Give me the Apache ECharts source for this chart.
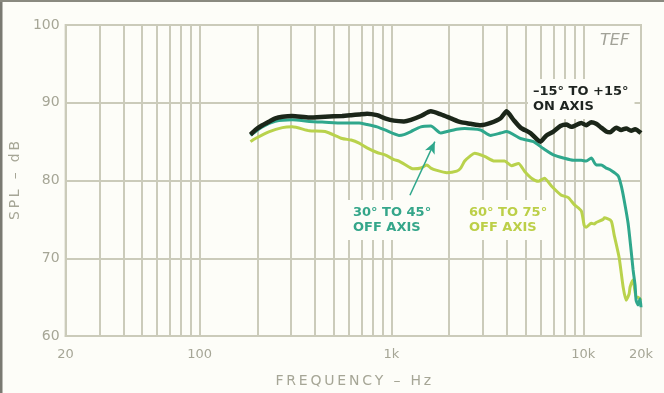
<!DOCTYPE html>
<html>
<head>
<meta charset="utf-8">
<script src="https://cdn.jsdelivr.net/npm/echarts@6/dist/echarts.min.js"></script>
<style>
html,body{margin:0;padding:0;background:#fdfdf8;}
#chart{width:664px;height:393px;}
</style>
</head>
<body>
<div id="chart"></div>
<script>
// Frequency grid values (Hz)
var gridFreqs = [30,40,50,60,70,80,90,100,200,300,400,500,600,700,800,900,1000,2000,3000,4000,5000,6000,7000,8000,9000,10000];
// Y tick values (dB)
var yTicks = [60,70,80,90,100];

// -15° to +15° on axis  [Hz, dB]
var onAxis = [
  [184,85.9],[195,86.5],[212,87.1],[231,87.6],[248,88.0],[270,88.2],[304,88.3],[373,88.1],
  [451,88.2],[553,88.3],[616,88.4],[678,88.5],[746,88.6],[841,88.4],[925,88.0],[1030,87.7],
  [1161,87.6],[1263,87.8],[1423,88.3],[1604,88.9],[1808,88.5],[2038,88.0],[2296,87.5],
  [2588,87.3],[2916,87.1],[3288,87.4],[3706,88.0],[3981,88.9],[4329,87.8],[4707,86.8],
  [5305,86.1],[5979,85.0],[6424,85.8],[6986,86.3],[7595,87.0],[8160,87.2],[8662,86.9],
  [9764,87.4],[10360,87.1],[11010,87.5],[11680,87.3],[12400,86.8],[13170,86.3],[13810,86.2],
  [14840,86.8],[15750,86.5],[16730,86.7],[17760,86.4],[18630,86.6],[20000,86.1]
];

// 30° to 45° off axis
var offAxis30 = [
  [184,85.8],[212,86.9],[248,87.6],[304,87.8],[373,87.6],[451,87.5],[553,87.4],[678,87.4],
  [746,87.2],[841,86.9],[925,86.5],[1094,85.8],[1161,85.9],[1263,86.3],[1423,86.9],[1604,87.0],
  [1808,86.1],[1943,86.3],[2189,86.6],[2409,86.7],[2916,86.5],[3288,85.8],[3706,86.1],
  [3981,86.3],[4707,85.4],[5500,85.0],[6197,84.1],[6986,83.3],[7873,82.9],[8872,82.6],
  [9764,82.6],[10360,82.5],[11010,82.9],[11680,82.0],[12400,82.0],[13170,81.6],[13980,81.3],
  [15200,80.6],[15750,79.4],[16330,77.5],[17130,74.5],[17760,71.0],[18190,68.5],[18630,66.5],
  [18860,64.6],[19310,64.0],[19780,64.8],[20000,63.7]
];

// 60° to 75° off axis
var offAxis60 = [
  [184,85.0],[195,85.4],[231,86.3],[270,86.8],[304,86.9],[373,86.4],[451,86.3],[553,85.4],
  [616,85.2],[678,84.8],[746,84.2],[841,83.6],[925,83.3],[1030,82.7],[1094,82.5],[1263,81.6],
  [1309,81.5],[1423,81.6],[1529,82.0],[1604,81.6],[1724,81.3],[1943,81.0],[2189,81.2],
  [2296,81.6],[2409,82.5],[2588,83.2],[2715,83.5],[3059,83.1],[3449,82.5],[3887,82.5],
  [4227,81.9],[4596,82.2],[4938,81.2],[5369,80.3],[5838,79.9],[6272,80.3],[6821,79.3],
  [7687,78.1],[8358,77.8],[8979,76.9],[9764,76.1],[10120,74.2],[10360,74.0],[11010,74.5],
  [11410,74.4],[11680,74.6],[12700,75.0],[12860,75.2],[13980,74.8],[14490,73.0],[15380,70.1],
  [16140,66.3],[16730,64.6],[17340,65.4],[17550,66.3],[18190,67.2],[18860,65.0],[19310,65.0],
  [20000,64.6]
];

// Arrow from "30° TO 45°" label to its curve  [Hz, dB]
var arrow30 = [[1248,78.1],[1683,85.0]];

var gridColor = '#cbcbba';
var textGray = '#a6a696';
var bg = '#fdfdf8';
var ts = '\u2009';
function spaced(s) { return s.split('').join(ts); }

var chart = echarts.init(document.getElementById('chart'), null, {renderer:'canvas'});
chart.setOption({
  backgroundColor: bg,
  animation: false,
  grid: {left:62, right:23, top:25, bottom:54, show:true, borderColor:gridColor, borderWidth:2, backgroundColor:'transparent'},
  xAxis: {
    type: 'log', logBase: 10, min: 20, max: 20000,
    name: spaced('FREQUENCY – Hz'), nameLocation: 'middle', nameGap: 38,
    nameTextStyle: {color: textGray, fontSize: 14, fontFamily: 'DejaVu Sans'},
    axisLine: {show: true, lineStyle: {color: gridColor, width: 2}},
    axisTick: {show: false},
    splitLine: {show: false},
    axisLabel: {
      color: textGray, fontSize: 13, fontFamily: 'DejaVu Sans', margin: 12,
      formatter: function (v) { v = Math.round(v); return v >= 1000 ? (v/1000) + 'k' : String(v); }
    }
  },
  yAxis: {
    type: 'value', min: yTicks[0], max: yTicks[yTicks.length-1], interval: 10,
    name: spaced('SPL – dB'), nameLocation: 'middle', nameGap: 32, nameRotate: 90,
    nameTextStyle: {color: textGray, fontSize: 14, fontFamily: 'DejaVu Sans'},
    axisLine: {show: true, lineStyle: {color: gridColor, width: 2}},
    axisTick: {show: false},
    splitLine: {show: true, lineStyle: {color: gridColor, width: 2}},
    axisLabel: {color: textGray, fontSize: 14, fontFamily: 'DejaVu Sans', margin: 6}
  },
  series: [
    {
      type: 'line', name: 'grid', data: [], silent: true, z: 1,
      markLine: {
        silent: true, symbol: ['none','none'], animation: false, z: 1,
        label: {show: false},
        lineStyle: {color: gridColor, width: 2, type: 'solid'},
        data: gridFreqs.map(function (f) { return {xAxis: f}; })
      }
    },
    {
      type: 'line', name: '60° TO 75° OFF AXIS', data: offAxis60, showSymbol: false, smooth: 0.2,
      lineStyle: {color: '#b9d24c', width: 3}, z: 3
    },
    {
      type: 'line', name: '30° TO 45° OFF AXIS', data: offAxis30, showSymbol: false, smooth: 0.2,
      lineStyle: {color: '#2fa78c', width: 3}, z: 4,
      markLine: {
        silent: true, symbol: ['none','arrow'], symbolSize: [8, 12], z: 4,
        label: {show: false},
        lineStyle: {color: '#2fa78c', width: 1.5, type: 'solid'},
        data: [[{coord: arrow30[0]}, {coord: arrow30[1]}]]
      }
    },
    {
      type: 'line', name: '-15° TO +15° ON AXIS', data: onAxis, showSymbol: false, smooth: 0.2,
      lineStyle: {color: '#1b2619', width: 4.5}, z: 5
    }
  ],
  graphic: [
    {type:'text', left: 600, top: 33, z: 2, style:{text:'TEF', fill:'#a2a298', font:'italic 16px "DejaVu Sans"'}},
    {type:'text', left: 528, top: 79, z: 2, style:{text:'–15° TO +15°\nON AXIS', fill:'#1e2420', font:'bold 13px "DejaVu Sans"', lineHeight: 15, backgroundColor: bg, padding: [5,6,5,5]}},
    {type:'text', left: 348, top: 200, z: 2, style:{text:'30° TO 45°\nOFF AXIS', fill:'#35a68a', font:'bold 13px "DejaVu Sans"', lineHeight: 15, backgroundColor: bg, padding: [5,5,5,5]}},
    {type:'text', left: 464, top: 200, z: 2, style:{text:'60° TO 75°\nOFF AXIS', fill:'#bccf48', font:'bold 13px "DejaVu Sans"', lineHeight: 15, backgroundColor: bg, padding: [5,5,5,5]}},
    {type:'line', shape:{x1:1, y1:0, x2:1, y2:393}, style:{stroke:'#7a7a72', lineWidth:3}},
    {type:'line', shape:{x1:0, y1:1, x2:664, y2:1}, style:{stroke:'#8a8a80', lineWidth:2}}
  ]
});
</script>
</body>
</html>
